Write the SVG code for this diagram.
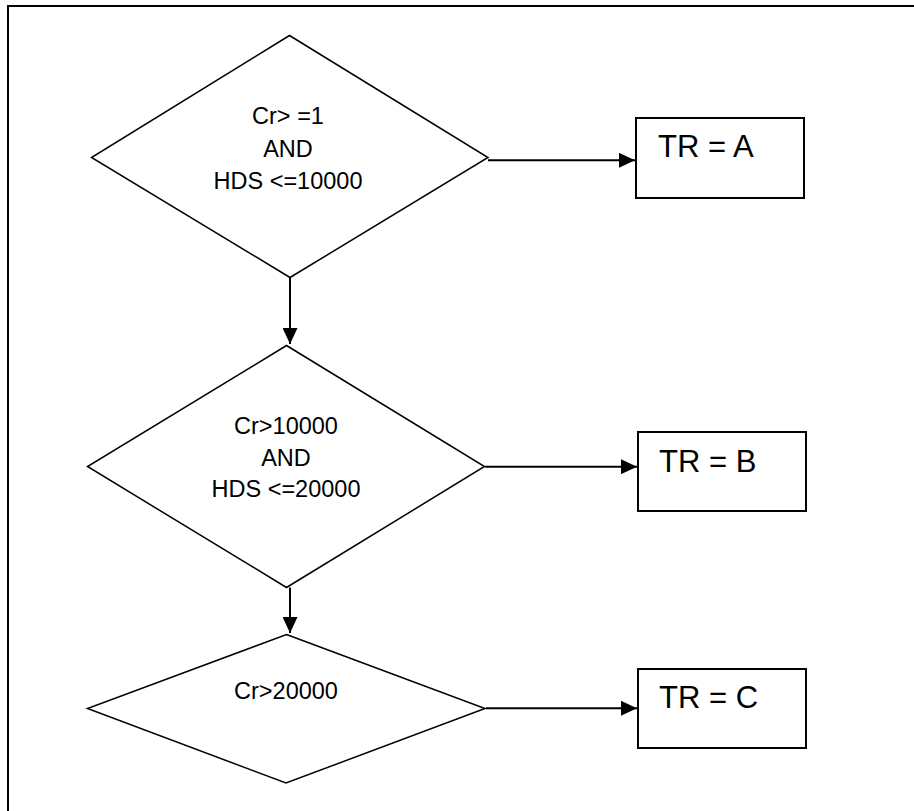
<svg xmlns="http://www.w3.org/2000/svg" width="914" height="811" viewBox="0 0 914 811">
<style>
.shape{fill:#fff;stroke:#000;stroke-width:1.5}
.box{fill:#fff;stroke:#000;stroke-width:2}
.cond{font-family:"Liberation Sans",Arial,sans-serif;font-size:23.5px;fill:#000;text-anchor:middle}
.res{font-family:"Liberation Sans",Arial,sans-serif;font-size:31px;fill:#000}
.conn{stroke:#000;stroke-width:2;fill:none;marker-end:url(#arr)}
</style>
<defs>
<marker id="arr" markerUnits="userSpaceOnUse" markerWidth="16" markerHeight="15" refX="16" refY="7.5" orient="auto">
<path d="M0,0 L16,7.5 L0,15 Z" fill="#000"/>
</marker>
</defs>
<rect width="914" height="811" fill="#fff"/>
<path d="M8,811 L8,6 L914,6" fill="none" stroke="#000" stroke-width="2"/>
<g id="d1">
<polygon class="shape" points="289.5,35.5 488,157.5 290,277.5 91.5,157.5"/>
<text class="cond" x="288" y="124">Cr&gt; =1</text>
<text class="cond" x="288" y="156.5">AND</text>
<text class="cond" x="288" y="188.5">HDS &lt;=10000</text>
</g>
<g id="d2">
<polygon class="shape" points="286.5,345.5 484.5,466.5 286.5,587.5 87.5,466.5"/>
<text class="cond" x="286" y="434">Cr&gt;10000</text>
<text class="cond" x="286" y="465.5">AND</text>
<text class="cond" x="286" y="496.5">HDS &lt;=20000</text>
</g>
<g id="d3">
<polygon class="shape" points="286.5,634.5 485,708.5 286,783 87.5,708.5"/>
<text class="cond" x="286" y="699">Cr&gt;20000</text>
</g>
<g id="bA">
<rect class="box" x="636" y="118" width="168" height="80"/>
<text class="res" x="658" y="157">TR = A</text>
</g>
<g id="bB">
<rect class="box" x="638" y="432" width="168" height="79"/>
<text class="res" x="659" y="471.5">TR = B</text>
</g>
<g id="bC">
<rect class="box" x="638" y="669" width="168" height="79"/>
<text class="res" x="659" y="708">TR = C</text>
</g>
<g id="connectors">
<line class="conn" x1="488" y1="160.3" x2="635" y2="160.3"/>
<line class="conn" x1="485" y1="466.7" x2="637" y2="466.7"/>
<line class="conn" x1="486" y1="708.3" x2="637" y2="708.3"/>
<line class="conn" x1="290" y1="277.5" x2="290" y2="344"/>
<line class="conn" x1="290" y1="587.5" x2="290" y2="633"/>
</g>
</svg>
